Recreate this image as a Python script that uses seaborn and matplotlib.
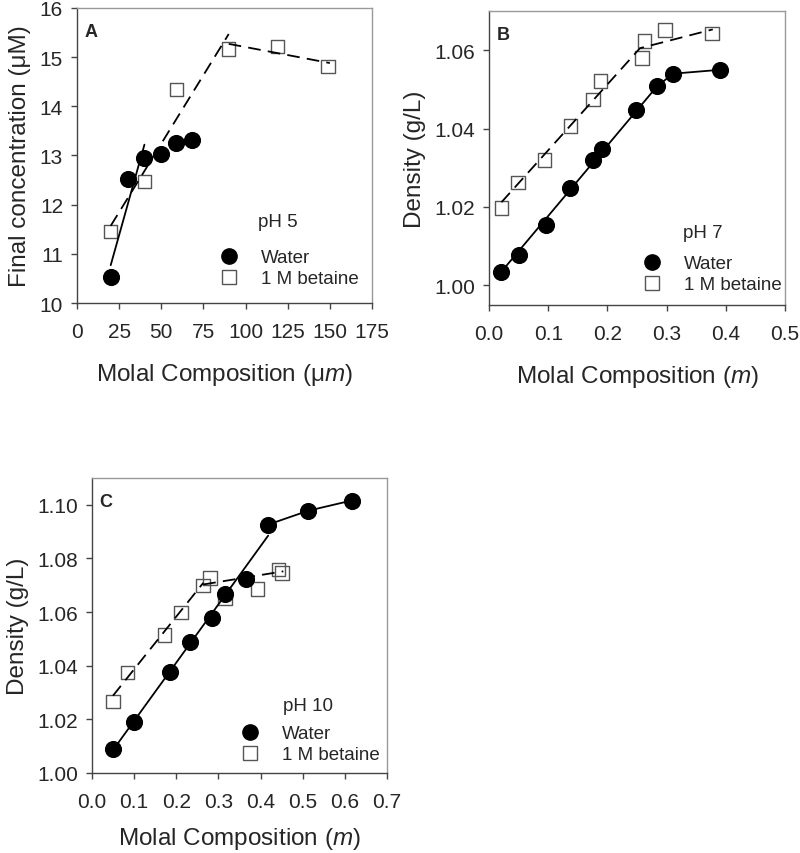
import matplotlib
matplotlib.use("Agg")
import matplotlib.pyplot as plt
from matplotlib.lines import Line2D
import seaborn as sns
import pandas as pd

# panel A, pH 5
a_water_x = [20, 30, 40, 50, 59, 68]
a_water_y = [10.52, 12.52, 12.95, 13.03, 13.26, 13.32]
a_bet_x = [20, 40, 59, 90, 119, 149]
a_bet_y = [11.45, 12.47, 14.34, 15.17, 15.22, 14.81]
a_water_fit = [([20, 40], [10.77, 13.22])]
a_bet_fit = [([20, 90], [11.57, 15.47]), ([90, 150], [15.27, 14.88])]

# panel B, pH 7
b_water_x = [0.021, 0.051, 0.097, 0.136, 0.176, 0.191, 0.248, 0.284, 0.311, 0.391]
b_water_y = [1.0035, 1.0077, 1.0154, 1.0248, 1.0321, 1.0349, 1.0448, 1.0508, 1.054, 1.055]
b_bet_x = [0.021, 0.049, 0.094, 0.1375, 0.176, 0.188, 0.258, 0.263, 0.297, 0.377]
b_bet_y = [1.0198, 1.0263, 1.032, 1.0407, 1.0474, 1.0521, 1.058, 1.0623, 1.0651, 1.0642]
b_water_fit = [([0.021, 0.284, 0.311, 0.391], [1.0035, 1.0508, 1.054, 1.055])]
b_bet_fit = [([0.021, 0.255, 0.378], [1.0212, 1.0605, 1.0653])]

# panel C, pH 10
c_water_x = [0.051, 0.099, 0.184, 0.233, 0.284, 0.316, 0.365, 0.4175, 0.513, 0.616]
c_water_y = [1.0088, 1.0189, 1.0377, 1.0489, 1.0577, 1.0667, 1.0725, 1.0926, 1.0978, 1.1016]
c_bet_x = [0.0497, 0.0845, 0.172, 0.2115, 0.264, 0.28, 0.316, 0.393, 0.442, 0.451]
c_bet_y = [1.0267, 1.0375, 1.0515, 1.0598, 1.0699, 1.0728, 1.0653, 1.0687, 1.0759, 1.0746]
c_water_fit = [([0.051, 0.418], [1.0088, 1.0885]),
               ([0.4175, 0.513, 0.616], [1.0926, 1.0978, 1.1016])]
c_bet_fit = [([0.0497, 0.264], [1.0288, 1.0709]), ([0.264, 0.454], [1.0703, 1.0752])]

sns.set_style("ticks")
plt.rcParams["font.family"] = ["Liberation Sans", "DejaVu Sans"]
plt.rcParams["mathtext.fontset"] = "custom"
plt.rcParams["mathtext.rm"] = "Liberation Sans"
plt.rcParams["mathtext.it"] = "Liberation Sans:italic"

XLAB_UM = "Molal Composition (\u03bc$\\mathit{m}$)"
XLAB_M = "Molal Composition ($\\mathit{m}$)"


def draw_panel(ax, letter, ph, wx, wy, bx, by, wfit, bfit, xlim, ylim,
               xticks, yticks, xfmt, yfmt, xlabel, ylabel, leg_anchor, ph_pos,
               xlabelpad=14):
    df_w = pd.DataFrame({"x": wx, "y": wy})
    df_b = pd.DataFrame({"x": bx, "y": by})
    sns.scatterplot(data=df_b, x="x", y="y", marker="s", s=95, facecolors="none",
                    edgecolor="#555555", linewidth=1.0, ax=ax, zorder=3)
    sns.scatterplot(data=df_w, x="x", y="y", marker="o", s=130, color="black",
                    edgecolor="black", ax=ax, zorder=3)
    for xs, ys in wfit:
        ax.plot(xs, ys, color="black", lw=1.3, zorder=4)
    for xs, ys in bfit:
        ax.plot(xs, ys, color="black", lw=1.3, dashes=(7, 4), zorder=4)

    ax.set_xlim(*xlim)
    ax.set_ylim(*ylim)
    ax.set_xticks(xticks)
    ax.set_yticks(yticks)
    ax.set_xticklabels([xfmt.format(v) for v in xticks])
    ax.set_yticklabels([yfmt.format(v) for v in yticks])
    ax.tick_params(direction="out", length=4, width=1, color="#444444",
                   labelsize=15, pad=6)
    ax.tick_params(axis="x", pad=10)
    for side in ["left", "bottom"]:
        ax.spines[side].set_color("#444444")
        ax.spines[side].set_linewidth(1.0)
    for side in ["top", "right"]:
        ax.spines[side].set_visible(True)
        ax.spines[side].set_color("#999999")
        ax.spines[side].set_linewidth(1.0)
    ax.set_xlabel(xlabel, fontsize=17.5, labelpad=xlabelpad)
    ax.set_ylabel(ylabel, fontsize=17.5, labelpad=6)

    ax.text(0.025, 0.92, letter, transform=ax.transAxes, fontsize=13,
            fontweight="bold", va="center", ha="left")
    ax.text(ph_pos[0], ph_pos[1], ph, transform=ax.transAxes, fontsize=13.5,
            va="center", ha="left")
    handles = [
        Line2D([], [], marker="o", color="black", linestyle="none", markersize=11),
        Line2D([], [], marker="s", markerfacecolor="none", markeredgecolor="#555555",
               linestyle="none", markersize=9.5, markeredgewidth=1.0),
    ]
    ax.legend(handles, ["Water", "1 M betaine"], loc="lower left",
              bbox_to_anchor=leg_anchor, frameon=False, fontsize=13.5,
              handlelength=1.0, handletextpad=1.2, labelspacing=0.2,
              borderpad=0, borderaxespad=0)


fig = plt.figure(figsize=(8, 8.54), dpi=100)
ax_a = fig.add_axes([0.09625, 0.644, 0.36875, 0.3455])
ax_b = fig.add_axes([0.61125, 0.6417, 0.37, 0.3443])
ax_c = fig.add_axes([0.115, 0.0937, 0.36875, 0.3454])

draw_panel(ax_a, "A", "pH 5", a_water_x, a_water_y, a_bet_x, a_bet_y,
           a_water_fit, a_bet_fit, (0, 175), (10, 16),
           [0, 25, 50, 75, 100, 125, 150, 175], [10, 11, 12, 13, 14, 15, 16],
           "{:.0f}", "{:.0f}", XLAB_UM, "Final concentration (\u03bcM)",
           (0.483, 0.054), (0.614, 0.275))
draw_panel(ax_b, "B", "pH 7", b_water_x, b_water_y, b_bet_x, b_bet_y,
           b_water_fit, b_bet_fit, (0, 0.5), (0.995, 1.07),
           [0.0, 0.1, 0.2, 0.3, 0.4, 0.5], [1.00, 1.02, 1.04, 1.06],
           "{:.1f}", "{:.2f}", XLAB_M, "Density (g/L)",
           (0.52, 0.04), (0.655, 0.248))
draw_panel(ax_c, "C", "pH 10", c_water_x, c_water_y, c_bet_x, c_bet_y,
           c_water_fit, c_bet_fit, (0, 0.7), (1.00, 1.11),
           [0.0, 0.1, 0.2, 0.3, 0.4, 0.5, 0.6, 0.7],
           [1.00, 1.02, 1.04, 1.06, 1.08, 1.10],
           "{:.1f}", "{:.2f}", XLAB_M, "Density (g/L)",
           (0.505, 0.033), (0.647, 0.23), xlabelpad=10)

fig.savefig("out.png", dpi=100)
